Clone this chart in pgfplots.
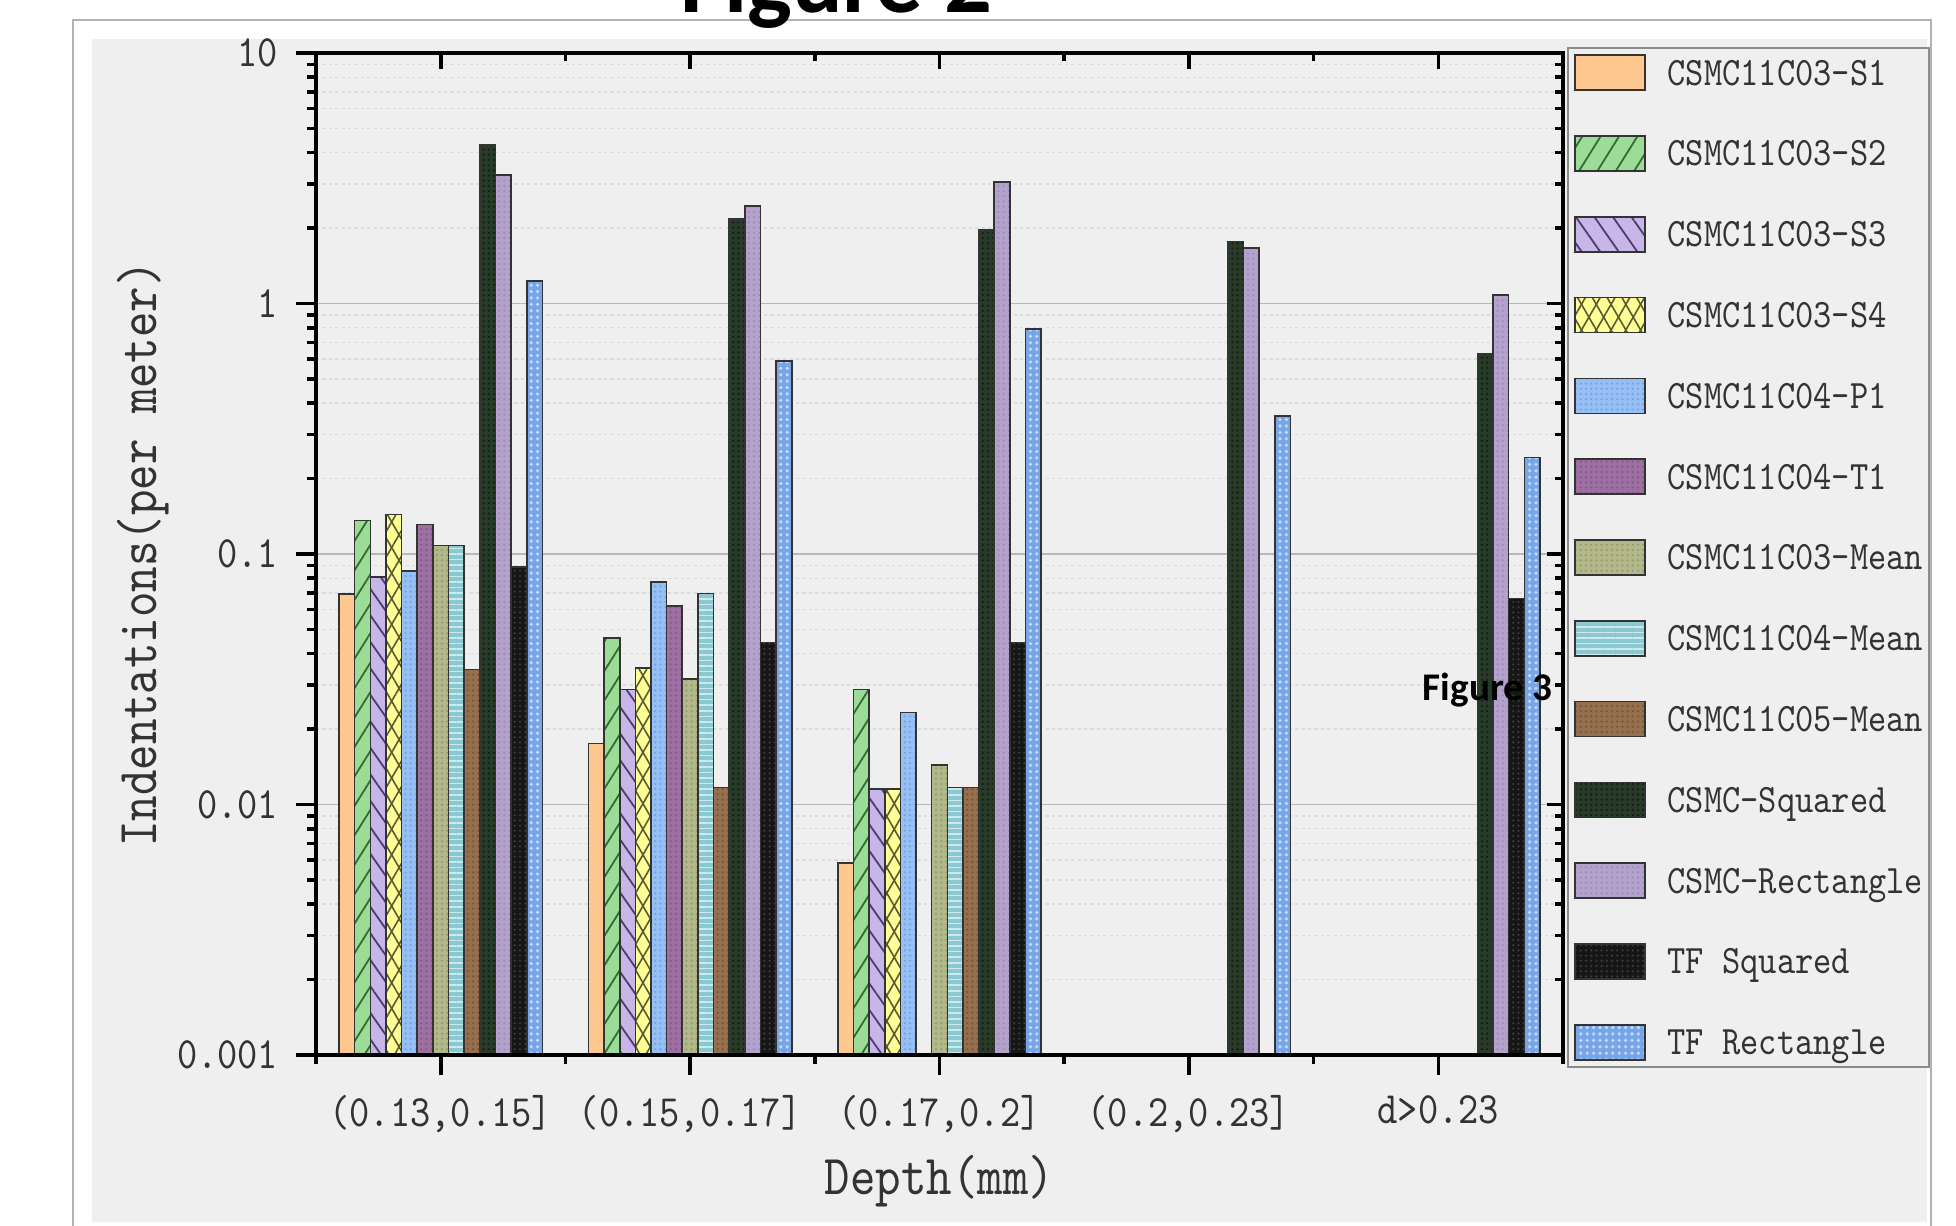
\documentclass[border=0pt]{standalone}
\usepackage{pgfplots}
\pgfplotsset{compat=1.18}
\usetikzlibrary{patterns,patterns.meta}
\usepackage{fontspec}
\newfontfamily\lmt{lmmono10-regular}[Extension=.otf, FakeStretch=0.86]
\newfontfamily\carl{Carlito}
\newcommand\legf{\lmt\fontsize{10.1}{12}\selectfont}
\newcommand\tickf{\lmt\fontsize{11.2}{13}\selectfont}
\newcommand\labf{\lmt\fontsize{14.1}{16}\selectfont}

\definecolor{panel}{RGB}{239,239,239}
\definecolor{cA}{RGB}{255,200,145}
\definecolor{cB}{RGB}{155,220,150}\definecolor{hB}{RGB}{55,105,55}
\definecolor{cC}{RGB}{200,182,232}\definecolor{hC}{RGB}{80,60,110}
\definecolor{cD}{RGB}{255,255,150}\definecolor{hD}{RGB}{90,90,50}
\definecolor{cE}{RGB}{150,192,245}\definecolor{hE}{RGB}{118,162,222}
\definecolor{cF}{RGB}{158,112,162}\definecolor{hF}{RGB}{132,88,138}
\definecolor{cG}{RGB}{178,184,138}\definecolor{hG}{RGB}{148,154,108}
\definecolor{cH}{RGB}{140,200,208}\definecolor{hH}{RGB}{205,235,238}
\definecolor{cI}{RGB}{150,112,78}\definecolor{hI}{RGB}{118,84,55}
\definecolor{cJ}{RGB}{40,58,40}\definecolor{hJ}{RGB}{18,28,18}
\definecolor{cK}{RGB}{180,162,205}\definecolor{hK}{RGB}{158,140,188}
\definecolor{cL}{RGB}{22,22,22}\definecolor{hL}{RGB}{60,60,60}
\definecolor{cM}{RGB}{120,165,230}\definecolor{hM}{RGB}{195,218,250}

\pgfplotsset{bs/.style={draw=black!80, line width=0.4pt}}

\begin{document}
\begin{tikzpicture}
\path[use as bounding box, clip] (0pt,0pt) rectangle (489pt,306.5pt);
\fill[panel] (23pt,1pt) rectangle (481.75pt,296.75pt);
\draw[black!30, line width=0.6pt] (18.25pt,-5pt) -- (18.25pt,301.5pt) -- (482.75pt,301.5pt) -- (482.75pt,-5pt);
\node[anchor=base west, inner sep=0pt, font=\carl\bfseries\fontsize{23.6}{26}\selectfont] at (170pt,303.25pt) {Figure 2};

\begin{axis}[
  at={(79pt,42.75pt)}, anchor=south west,
  width=311.75pt, height=250.5pt, scale only axis,
  ymode=log, log origin y=infty,
  ymin=0.001, ymax=10, xmin=-0.5, xmax=4.5,
  ybar=0pt, bar width=3.91pt,
  axis line style={line width=1pt, black},
  tick align=outside, xtick pos=left, ytick pos=left,
  tick style={black, line width=0.9pt},
  major tick length=5pt, minor tick length=2.2pt,
  xtick={0,1,2,3,4},
  xticklabels={{(0.13,0.15]},{(0.15,0.17]},{(0.17,0.2]},{(0.2,0.23]},{d>0.23}},
  minor xtick={-0.5,0.5,1.5,2.5,3.5,4.5},
  ytick={0.001,0.01,0.1,1,10},
  yticklabels={0.001,0.01,0.1,1,10},
  minor ytick={0.002,0.003,0.004,0.005,0.006,0.007,0.008,0.009,
               0.02,0.03,0.04,0.05,0.06,0.07,0.08,0.09,
               0.2,0.3,0.4,0.5,0.6,0.7,0.8,0.9,
               2,3,4,5,6,7,8,9},
  ymajorgrids, yminorgrids,
  major grid style={black!28, line width=0.45pt},
  minor grid style={black!14, line width=0.35pt, dash pattern=on 0.8pt off 0.8pt},
  xticklabel style={font=\tickf, text=black!80, anchor=north, inner sep=0pt},
  yticklabel style={font=\tickf, text=black!80, anchor=east, inner sep=0pt},
  xticklabel shift=5pt, yticklabel shift=4.25pt,
  xlabel={Depth(mm)}, ylabel={Indentations(per meter)},
  xlabel style={font=\labf, text=black!80, at={(axis description cs:0.5,-0.1397)}, anchor=base},
  ylabel style={font=\labf, text=black!80, at={(axis description cs:-0.1283,0.5)}, anchor=base, rotate=0},
  legend style={at={(1.0032,1.006)}, anchor=north west, draw=black!45, line width=0.5pt,
    fill=panel, inner xsep=1.5pt, inner ysep=1.6pt, row sep=11.05pt, column sep=5.5pt,
    font=\legf, text=black!80, cells={anchor=west},
    nodes={inner sep=0pt, text height=7pt, text depth=0.8pt}},
  legend image code/.code={\draw[#1] (0pt,-4.375pt) rectangle (17.5pt,4.375pt);},
]
\addplot[bs, fill=cA] coordinates {(0,0.0693) (1,0.0175) (2,0.00585)};
\addlegendentry{CSMC11C03-S1}
\addplot[bs, fill=cB, postaction={pattern={Lines[angle=58,distance=3.9pt,line width=0.45pt]}, pattern color=hB}]
  coordinates {(0,0.136) (1,0.0461) (2,0.0288)};
\addlegendentry{CSMC11C03-S2}
\addplot[bs, fill=cC, postaction={pattern={Lines[angle=-55,distance=3.8pt,line width=0.45pt]}, pattern color=hC}]
  coordinates {(0,0.0808) (1,0.0288) (2,0.01155)};
\addlegendentry{CSMC11C03-S3}
\addplot[bs, fill=cD, postaction={pattern={Lines[angle=60,distance=3.2pt,line width=0.4pt]}, pattern color=hD},
  postaction={pattern={Lines[angle=-60,distance=3.2pt,line width=0.4pt]}, pattern color=hD}]
  coordinates {(0,0.144) (1,0.035) (2,0.01155)};
\addlegendentry{CSMC11C03-S4}
\addplot[bs, fill=cE, postaction={pattern={Dots[radius=0.3pt,distance=1.3pt]}, pattern color=hE}]
  coordinates {(0,0.0855) (1,0.0773) (2,0.0233)};
\addlegendentry{CSMC11C04-P1}
\addplot[bs, fill=cF, postaction={pattern={Dots[radius=0.3pt,distance=1.3pt]}, pattern color=hF}]
  coordinates {(0,0.131) (1,0.0619)};
\addlegendentry{CSMC11C04-T1}
\addplot[bs, fill=cG, postaction={pattern={Dots[radius=0.3pt,distance=1.3pt]}, pattern color=hG}]
  coordinates {(0,0.108) (1,0.0317) (2,0.0144)};
\addlegendentry{CSMC11C03-Mean}
\addplot[bs, fill=cH, postaction={pattern={Lines[angle=0,distance=1.4pt,line width=0.4pt]}, pattern color=hH}]
  coordinates {(0,0.108) (1,0.0695) (2,0.0117)};
\addlegendentry{CSMC11C04-Mean}
\addplot[bs, fill=cI, postaction={pattern={Dots[radius=0.3pt,distance=1.3pt]}, pattern color=hI}]
  coordinates {(0,0.0346) (1,0.0117) (2,0.0117)};
\addlegendentry{CSMC11C05-Mean}
\addplot[bs, fill=cJ, postaction={pattern={Dots[radius=0.3pt,distance=1.3pt]}, pattern color=hJ}]
  coordinates {(0,4.3) (1,2.17) (2,1.97) (3,1.77) (4,0.627)};
\addlegendentry{CSMC-Squared}
\addplot[bs, fill=cK, postaction={pattern={Dots[radius=0.3pt,distance=1.3pt]}, pattern color=hK}]
  coordinates {(0,3.25) (1,2.45) (2,3.06) (3,1.67) (4,1.08)};
\addlegendentry{CSMC-Rectangle}
\addplot[bs, fill=cL, postaction={pattern={Dots[radius=0.3pt,distance=1.3pt]}, pattern color=hL}]
  coordinates {(0,0.0888) (1,0.0444) (2,0.0444) (4,0.0665)};
\addlegendentry{TF Squared}
\addplot[bs, fill=cM, postaction={pattern={Dots[radius=0.45pt,distance=1.6pt]}, pattern color=hM}]
  coordinates {(0,1.23) (1,0.59) (2,0.792) (3,0.356) (4,0.243)};
\addlegendentry{TF Rectangle}
\end{axis}

\begin{axis}[
  at={(79pt,42.75pt)}, anchor=south west,
  width=311.75pt, height=250.5pt, scale only axis,
  ymode=log, ymin=0.001, ymax=10, xmin=-0.5, xmax=4.5,
  axis line style={line width=1pt, black},
  tick align=inside, xtick pos=right, ytick pos=right,
  tick style={black, line width=0.9pt},
  major tick length=4pt, minor tick length=1.9pt,
  xtick={0,1,2,3,4}, minor xtick={-0.5,0.5,1.5,2.5,3.5,4.5},
  ytick={0.001,0.01,0.1,1,10},
  minor ytick={0.002,0.003,0.004,0.005,0.006,0.007,0.008,0.009,
               0.02,0.03,0.04,0.05,0.06,0.07,0.08,0.09,
               0.2,0.3,0.4,0.5,0.6,0.7,0.8,0.9,
               2,3,4,5,6,7,8,9},
  xticklabels={}, yticklabels={},
]
\end{axis}

\node[anchor=base west, inner sep=0pt, font=\carl\bfseries\fontsize{9.8}{11}\selectfont] at (355.5pt,131.25pt) {Figure 3};
\end{tikzpicture}
\end{document}
